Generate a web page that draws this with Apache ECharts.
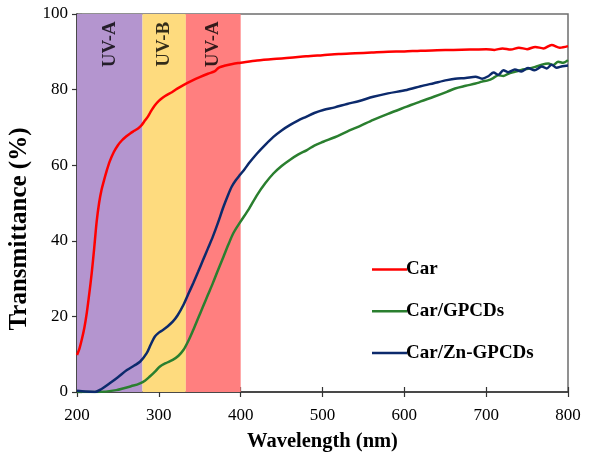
<!DOCTYPE html>
<html><head><meta charset="utf-8">
<script src="https://cdn.jsdelivr.net/npm/echarts@6/dist/echarts.min.js"></script>
<style>html,body{margin:0;padding:0;background:#fff}#c{width:592px;height:454px}</style>
</head><body><div id="c"></div>
<script>
const carX = [200,203,206,209,212,215,218,221,224,227,230,233,236,240,245,250,255,260,265,270,275,279,283,287,291,295,300,305,310,316,322,330,340,350,360,368,371,374,380,390,400,420,440,460,480,500,520,540,560,580,600,620,640,660,680,700,710,720,730,740,750,760,770,780,790,800];
const carY = [9.8,11.5,14,17,21,26,31.5,38,45,50,53.5,56,58.3,61,63.5,65.3,66.6,67.6,68.4,69.1,69.8,70.6,71.8,73,74.5,75.8,77,77.9,78.6,79.3,80.2,81.2,82.3,83.3,84.2,84.8,85.4,85.9,86.3,86.8,87.1,87.7,88.1,88.4,88.8,89.1,89.4,89.6,89.8,90.0,90.1,90.3,90.4,90.5,90.6,90.7,90.5,90.9,90.6,91.1,90.7,91.3,90.9,91.8,91.1,91.5];
const gpX  = [200,224,248,269,277,283,289,295,301,308,317,324,330,336,342,348,354,360,366,372,379,385,391,399,410,420,430,440,450,460,470,481,490,501,515,530,545,562,580,603,620,636,652,662,675,687,695,703,709,715,721,727,735,743,751,760,768,776,782,788,794,800];
const gpY  = [0,0,0.5,1.7,2.3,3,4.1,5.3,6.7,7.6,8.5,9.6,11.1,13.5,16.4,19.5,22.6,25.7,28.8,32.1,35.8,39,42,44.8,48.4,52.1,55.2,57.8,59.8,61.4,62.8,64,65.2,66.2,67.4,68.9,70.3,72,73.6,75.5,76.9,78.1,79.4,80.3,81,81.6,82.1,82.5,83.1,83.8,83.6,84.2,84.7,85.2,85.5,86,86.6,86.9,86.5,87.4,87.1,87.8];
const znX  = [200,210,222,230,240,250,261,270,277,285,290,295,300,305,311,317,323,330,336,342,348,354,360,366,372,379,384,389,394,399,405,410,420,430,440,450,460,470,480,490,501,515,530,545,562,580,603,620,636,652,662,675,687,695,703,709,715,721,727,735,743,751,759,768,774,780,786,793,800];
const znY  = [0.3,0.1,0,0.8,2.3,3.9,5.8,7,8,10.2,12.5,14.6,15.7,16.4,17.4,18.6,20.3,23,25.9,28.8,31.8,34.9,38,41.1,44.6,49,51.8,54.3,56,57.4,59,60.5,63.1,65.4,67.5,69.2,70.6,71.8,72.8,73.8,74.6,75.3,76.2,77,78.1,79,79.9,80.9,81.7,82.5,82.9,83.1,83.4,82.9,83.6,84.5,83.9,85.1,84.6,85.3,84.8,85.7,85.1,86.1,85.6,86.6,85.8,86.2,86.4];
const bandStart = [200,280,333];
const bandEnd   = [280,333,400];
const bandNames = ['UV-A','UV-B','UV-A'];
const bandColors = ['#B495CF','#FEDB7E','#FF7F7F'];
const bandLabelY = 92;
const xTicks = {min:200,max:800,interval:100};
const yTicks = {min:0,max:100,interval:20};
const names = ['Car','Car/GPCDs','Car/Zn-GPCDs'];
const colors = ['#FF0000','#2A7F2F','#0C2A6C'];

const zip = (a,b)=>a.map((v,i)=>[v,b[i]]);
const serif = '"Liberation Serif","DejaVu Serif",serif';
const chart = echarts.init(document.getElementById('c'));
const tickStyle = {color:'#333',width:1.2};
chart.setOption({
  animation:false,
  grid:{left:77,right:24,top:14,bottom:62,outerBoundsMode:'none',containLabel:false,show:true,borderColor:'#6e6e6e',borderWidth:1.5,backgroundColor:'transparent'},
  xAxis:[{type:'value',min:xTicks.min,max:xTicks.max,interval:xTicks.interval,
    name:'Wavelength (nm)',nameLocation:'middle',nameGap:39,
    nameTextStyle:{fontFamily:serif,fontWeight:'bold',fontSize:20.5,color:'#000'},
    axisLine:{lineStyle:{color:'#333',width:1.5}},
    axisTick:{inside:true,length:5,lineStyle:tickStyle},
    axisLabel:{fontFamily:serif,fontSize:17,color:'#000',margin:15},
    splitLine:{show:false}},
   {type:'value',min:xTicks.min,max:xTicks.max,interval:xTicks.interval,position:'bottom',
    axisLine:{show:false},axisTick:{inside:false,length:5,lineStyle:tickStyle},
    axisLabel:{show:false},splitLine:{show:false}}],
  yAxis:[{type:'value',min:yTicks.min,max:yTicks.max,interval:yTicks.interval,
    name:'Transmittance (%)',nameLocation:'middle',nameGap:36,
    nameTextStyle:{fontFamily:serif,fontWeight:'bold',fontSize:25,color:'#000',padding:[0,52,0,0]},
    axisLine:{show:true,lineStyle:{color:'#333',width:1.5}},
    axisTick:{show:true,length:5,lineStyle:tickStyle},
    axisLabel:{fontFamily:serif,fontSize:17,color:'#000',margin:9},
    splitLine:{show:false}},
   {type:'value',min:yTicks.min,max:yTicks.max,interval:yTicks.interval,position:'left',
    axisLine:{show:false},axisTick:{show:true,inside:true,length:5,lineStyle:tickStyle},
    axisLabel:{show:false},splitLine:{show:false}}],
  legend:{orient:'vertical',left:367,top:255,icon:'rect',itemWidth:35,itemHeight:2.5,itemGap:22.7,
    data:names,
    textStyle:{fontFamily:serif,fontWeight:'bold',fontSize:19,color:'#000',lineHeight:19,padding:[0,0,0,-6]}},
  series:[
    {type:'line',name:'bands',data:[],silent:true,z:1,
      markArea:{silent:true,data:bandStart.map((s,i)=>[{xAxis:s,itemStyle:{color:bandColors[i],opacity:1}},{xAxis:bandEnd[i]}])}},
    {type:'scatter',name:'bandLabels',silent:true,z:2,symbolSize:0,
      data:bandStart.map((s,i)=>({value:[(s+bandEnd[i])/2,bandLabelY],name:bandNames[i]})),
      label:{show:true,position:'inside',rotate:90,formatter:p=>p.name,
        fontFamily:serif,fontWeight:'bold',fontSize:19,color:'#000'}},
    ...[[carX,carY],[gpX,gpY],[znX,znY]].map((d,i)=>({
      type:'line',name:names[i],data:zip(d[0],d[1]),smooth:0.3,showSymbol:false,symbol:'none',z:3,
      lineStyle:{color:colors[i],width:2.5},itemStyle:{color:colors[i]}}))
  ]
});
</script></body></html>
